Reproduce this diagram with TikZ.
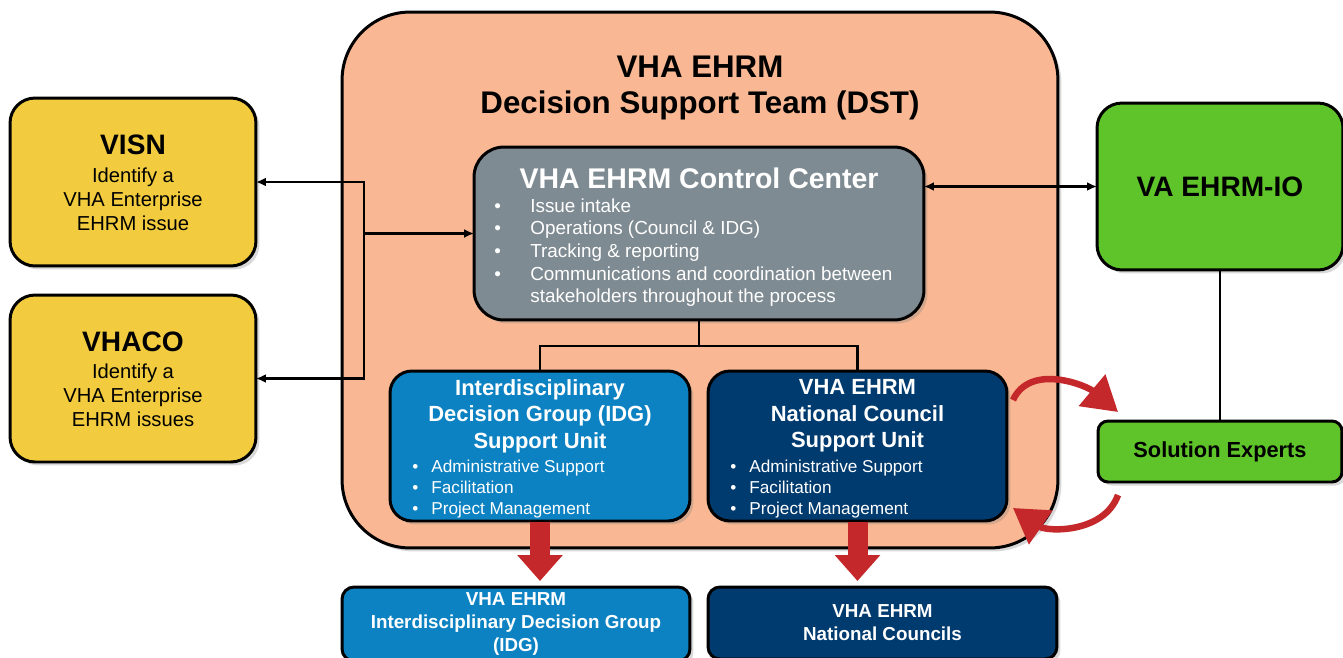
\documentclass[tikz,border=0pt]{standalone}
\usepackage{fontspec}
\setmainfont{Liberation Sans}
\usetikzlibrary{arrows.meta, shadows, positioning}

\definecolor{dstpeach}{RGB}{249,184,147}
\definecolor{tieryellow}{RGB}{242,204,62}
\definecolor{ccgray}{RGB}{127,139,146}
\definecolor{idgblue}{RGB}{12,130,194}
\definecolor{councilnavy}{RGB}{0,59,111}
\definecolor{ioGreen}{RGB}{95,196,42}
\definecolor{arrowred}{RGB}{196,40,42}

\newcommand{\setsz}[2]{\fontsize{#1}{#2}\selectfont}

\tikzset{
  box/.style={draw=black, line width=1.7pt, inner sep=0pt, outer sep=0pt,
    drop shadow={shadow xshift=0.07cm, shadow yshift=-0.07cm, opacity=0.3}},
  conn/.style={line width=1.5pt, -{Latex[length=2mm,width=1.8mm]}},
  tree/.style={line width=1.5pt},
  fatarrow/.style={arrowred, line width=0.4cm, -{Triangle[length=0.52cm,width=0.88cm]}},
  curvearrow/.style={arrowred, line width=0.13cm, -{Triangle[length=0.68cm,width=0.8cm]}},
  bullets/.style={anchor=base west, inner sep=0pt, text=white}
}

\begin{document}
\begin{tikzpicture}[x=0.02cm, y=-0.02cm]
\useasboundingbox (0,0) rectangle (1343,657);
\clip (0,0) rectangle (1343,657);

% decision support team
\node (dst) at (700,280) [box, fill=dstpeach, rounded corners=1.36cm, minimum width=14.32cm, minimum height=10.72cm] {};
\node (dsttitle) at (700,88) [align=center, font={\setsz{17.8}{21}\bfseries}] {VHA EHRM\\Decision Support Team (DST)};

% left side
\node (visn) at (133,182) [box, fill=tieryellow, rounded corners=0.5cm, minimum width=4.92cm, minimum height=3.36cm] {};
\node (visntitle) at (133,145) [font={\setsz{16}{19}\bfseries}] {VISN};
\node (visntext) at (133,199) [align=center, font={\setsz{11.5}{13.7}}] {Identify a\\VHA Enterprise\\EHRM issue};

\node (vhaco) at (133,378.5) [box, fill=tieryellow, rounded corners=0.5cm, minimum width=4.92cm, minimum height=3.34cm] {};
\node (vhacotitle) at (133,342) [font={\setsz{16}{19}\bfseries}] {VHACO};
\node (vhacotext) at (133,395) [align=center, font={\setsz{11.5}{13.7}}] {Identify a\\VHA Enterprise\\EHRM issues};

% control center
\node (cc) at (699,233.5) [box, fill=ccgray, rounded corners=0.6cm, minimum width=9cm, minimum height=3.46cm] {};
\node (cctitle) at (699,178) [text=white, font={\setsz{16.2}{19}\bfseries}] {VHA EHRM Control Center};
\node (ccitems) at (494,212) [bullets, font={\setsz{10.75}{12.9}}] {\begin{tabular}[t]{@{}p{0.72cm}@{}l@{}}
\textbullet & Issue intake\\
\textbullet & Operations (Council \& IDG)\\
\textbullet & Tracking \& reporting\\
\textbullet & Communications and coordination between\\
 & stakeholders throughout the process
\end{tabular}};

% support units
\node (idgsu) at (540,446) [box, fill=idgblue, rounded corners=0.44cm, minimum width=6cm, minimum height=3cm] {};
\node (idgsutitle) at (540,416) [align=center, text=white, font={\setsz{12.5}{15}\bfseries}] {Interdisciplinary\\Decision Group (IDG)\\Support Unit};
\node (idgsuitems) at (412,472) [bullets, font={\setsz{9.8}{11.95}}] {\begin{tabular}[t]{@{}p{0.38cm}@{}l@{}}
\textbullet & Administrative Support\\
\textbullet & Facilitation\\
\textbullet & Project Management
\end{tabular}};

\node (cu) at (857.5,446) [box, fill=councilnavy, rounded corners=0.44cm, minimum width=5.98cm, minimum height=3cm] {};
\node (cutitle) at (857.5,416) [align=center, text=white, font={\setsz{12.5}{15}\bfseries}] {VHA EHRM\\National Council\\Support Unit};
\node (cuitems) at (730,472) [bullets, font={\setsz{9.8}{11.95}}] {\begin{tabular}[t]{@{}p{0.38cm}@{}l@{}}
\textbullet & Administrative Support\\
\textbullet & Facilitation\\
\textbullet & Project Management
\end{tabular}};

% bottom groups
\node (idg) at (516,624) [box, fill=idgblue, rounded corners=0.24cm, minimum width=6.96cm, minimum height=1.48cm,
  align=center, text=white, font={\setsz{10.7}{13}\bfseries}] {VHA EHRM\\Interdisciplinary Decision Group\\(IDG)};
\node (nc) at (882.5,623) [box, fill=councilnavy, rounded corners=0.24cm, minimum width=6.98cm, minimum height=1.44cm,
  align=center, text=white, font={\setsz{10.7}{13}\bfseries}] {VHA EHRM\\National Councils};

% right side
\node (vaio) at (1220,186.5) [box, fill=ioGreen, rounded corners=0.5cm, minimum width=4.92cm, minimum height=3.34cm,
  font={\setsz{16}{19}\bfseries}] {VA EHRM-IO};
\node (se) at (1220,451.5) [box, fill=ioGreen, rounded corners=0.2cm, minimum width=4.88cm, minimum height=1.22cm,
  font={\setsz{12.4}{15}\bfseries}] {Solution Experts};

% connectors
\coordinate (hub) at (364,233.5);
\draw[conn] (hub) -- (cc);
\draw[conn] (hub) |- (visn);
\draw[conn] (hub) |- (vhaco);
\draw[conn, {Latex[length=2mm,width=1.8mm]}-{Latex[length=2mm,width=1.8mm]}] (vaio.west) -- (vaio.west -| cc.east);
\draw[tree] (vaio) -- (se);
\draw[tree] (cc.south) -- ++(0,26) coordinate (ccsplit) -| (idgsu.north);
\draw[tree] (ccsplit) -| (cu.north);

\draw[fatarrow, shorten <=0.03cm, shorten >=0.12cm] (idgsu.south) -- (idgsu.south |- idg.north);
\draw[fatarrow, shorten <=0.03cm, shorten >=0.12cm] (cu.south) -- (cu.south |- nc.north);

\draw[curvearrow] ([shift={(6,29)}]cu.north east) to[out=65, in=140] ([shift={(20,-9)}]se.north west);
\draw[curvearrow] ([shift={(20,13)}]se.south west) to[out=-110, in=-35] ([shift={(6,-13)}]cu.south east);
\end{tikzpicture}
\end{document}
